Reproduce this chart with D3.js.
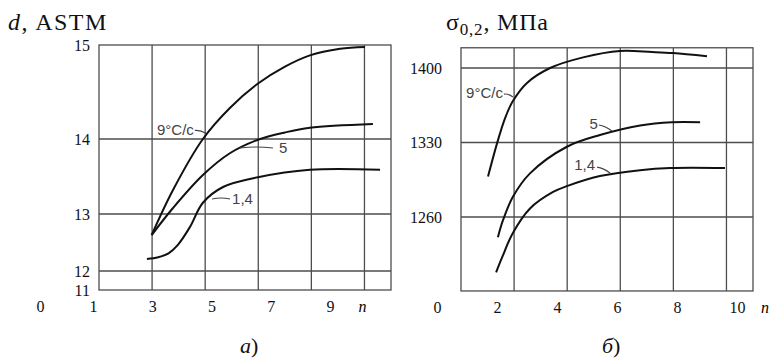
<!DOCTYPE html>
<html>
<head>
<meta charset="utf-8">
<script src="https://cdn.jsdelivr.net/npm/d3@7"></script>
<style>
  body { margin: 0; background: #fff; }
  svg { display: block; }
  .grid { stroke: #4d4d4d; stroke-width: 1.3; fill: none; }
  .curve { stroke: #111; stroke-width: 2; fill: none; }
  .lbl { font-family: "Liberation Sans", Arial, sans-serif; font-size: 15px; fill: #444; }
  .leader { stroke: #444; stroke-width: 1.2; fill: none; }
  .ttl { font-family: "Liberation Serif", "Times New Roman", serif; font-size: 24px; fill: #111; }
</style>
</head>
<body>
<div id="chart"></div>
<script>
// a) grain size d (ASTM) vs n, cooling rates 9, 5, 1.4 °C/s
var leftXTicks = [0, 1, 3, 5, 7, 9];
var leftYTicks = [11, 12, 13, 14, 15];
var leftGridY = [12, 13, 14];
var leftN9  = [2.98, 3.70, 4.71, 5.62, 6.57, 7.48, 8.32, 9.34, 10.18];
var leftD9  = [12.63, 13.32, 14.0, 14.33, 14.59, 14.77, 14.89, 14.96, 14.98];
var leftN5  = [2.98, 3.70, 4.71, 5.62, 6.57, 7.48, 8.32, 10.45];
var leftD5  = [12.63, 13.08, 13.52, 13.81, 13.99, 14.07, 14.12, 14.16];
var leftN14 = [2.82, 3.20, 3.55, 3.85, 4.27, 4.71, 5.39, 6.57, 8.32, 10.69];
var leftD14 = [12.21, 12.24, 12.31, 12.45, 12.77, 13.15, 13.36, 13.49, 13.59, 13.59];
var leftLabels = ["9°C/c", "5", "1,4"];
var leftLabelN = [4.81, 5.96, 5.02];
var leftLabelV = [14.06, 13.88, 13.2];

// б) yield strength σ0,2 (MPa) vs n
var rightXTicks = [0, 2, 4, 6, 8, 10];
var rightYTicks = [1260, 1330, 1400];
var rightN9  = [1.70, 2.03, 2.27, 2.53, 3.0, 3.77, 4.87, 6.10, 7.17, 7.87, 9.0];
var rightS9  = [1298, 1332, 1353, 1369, 1386, 1400, 1410, 1416, 1415, 1414, 1411];
var rightN5  = [2.03, 2.20, 2.53, 3.10, 4.33, 5.43, 6.77, 7.83, 8.77];
var rightS5  = [1241, 1257, 1279, 1301, 1326, 1337, 1346, 1349, 1349];
var rightN14 = [1.97, 2.17, 2.53, 3.10, 3.87, 4.33, 5.43, 6.77, 7.77, 9.6];
var rightS14 = [1208, 1222, 1245, 1268, 1283.5, 1289, 1298.5, 1304, 1306, 1306];
var rightLabels = ["9°C/c", "5", "1,4"];
var rightLabelN = [2.53, 5.83, 5.77];
var rightLabelV = [1372.7, 1340.8, 1301.3];

var gridCols = [1, 2, 3, 4, 5];

var svg = d3.select("#chart").append("svg")
    .attr("width", 774)
    .attr("height", 358);

function tickFont(a) {
    a.select(".domain").remove();
    a.attr("font-family", "'Liberation Serif', 'Times New Roman', serif")
        .attr("font-size", 16);
    a.selectAll("text").attr("fill", "#111");
}

function panel(o) {
    var g = svg.append("g");

    // frame + grid
    var x0 = o.gx(0), x1 = o.gx(5.5);
    var yTop = o.y(o.yMax), yBot = o.y(o.yMin);
    g.append("rect").attr("class", "grid")
        .attr("x", x0).attr("y", yTop)
        .attr("width", x1 - x0).attr("height", yBot - yTop);
    g.selectAll(".vg").data(gridCols).enter().append("line")
        .attr("class", "grid")
        .attr("x1", d => o.gx(d)).attr("x2", d => o.gx(d))
        .attr("y1", yTop).attr("y2", yBot);
    g.selectAll(".hg").data(o.gridY).enter().append("line")
        .attr("class", "grid")
        .attr("x1", x0).attr("x2", x1)
        .attr("y1", d => o.y(d)).attr("y2", d => o.y(d));

    // tick labels
    g.append("g")
        .attr("transform", "translate(0," + yBot + ")")
        .call(d3.axisBottom(o.x).tickValues(o.xTicks).tickSize(0).tickPadding(11).tickFormat(d3.format("d")))
        .call(tickFont);
    g.append("g")
        .attr("transform", "translate(" + (x0 - o.yPad) + ",0)")
        .call(d3.axisLeft(o.y).tickValues(o.yTicks).tickSize(0).tickPadding(0).tickFormat(d3.format("d")))
        .call(tickFont);
    g.append("text")
        .attr("x", o.x(o.nAt)).attr("y", yBot + 22)
        .attr("text-anchor", "middle")
        .style("font-family", "'Liberation Serif', serif")
        .style("font-style", "italic")
        .style("font-size", "16px")
        .text("n");

    // curves
    var line = d3.line()
        .x(d => o.x(d[0])).y(d => o.y(d[1]))
        .curve(d3.curveCatmullRom.alpha(0.5));
    o.series.forEach(function(s) {
        g.append("path").attr("class", "curve").attr("d", line(d3.zip(s[0], s[1])));
    });

    // rate labels with leader lines
    o.labels.forEach(function(t, i) {
        var ax = o.x(o.labelN[i]), ay = o.y(o.labelV[i]);
        var L = o.leaders[i];
        g.append("path").attr("class", "leader")
            .attr("d", "M" + (ax + L[0]) + "," + (ay + L[1]) +
                " Q" + (ax + L[0] * 0.5) + "," + (ay + L[1] * 0.5 - 2) + " " + ax + "," + ay);
        g.append("text").attr("class", "lbl")
            .attr("x", ax + L[2]).attr("y", ay + L[3])
            .attr("dy", "0.35em")
            .attr("text-anchor", L[2] < 0 ? "end" : "start")
            .text(t);
    });
}

panel({
    x: d3.scaleLinear().domain([0, 1, 9]).range([40, 93, 330]),
    y: d3.scaleLinear().domain([11, 12, 13, 14, 15]).range([290, 271, 214, 139, 45]),
    gx: d3.scaleLinear().domain([0, 5.5]).range([99, 391]),
    yMin: 11, yMax: 15, yPad: 9,
    xTicks: leftXTicks, yTicks: leftYTicks, gridY: leftGridY, nAt: 10.1,
    series: [[leftN9, leftD9], [leftN5, leftD5], [leftN14, leftD14]],
    labels: leftLabels, labelN: leftLabelN, labelV: leftLabelV,
    leaders: [[-11, -3, -12, -4], [33, 0, 39, 0], [18, 0, 20, 0]]
});

panel({
    x: d3.scaleLinear().domain([0, 10]).range([437, 737]),
    y: d3.scaleLinear().domain([1260, 1400]).range([217, 68]),
    gx: d3.scaleLinear().domain([0, 5.5]).range([461, 753]),
    yMin: 1190.5, yMax: 1419, yPad: 19,
    xTicks: rightXTicks, yTicks: rightYTicks, gridY: rightYTicks, nAt: 10.93,
    series: [[rightN9, rightS9], [rightN5, rightS5], [rightN14, rightS14]],
    labels: rightLabels, labelN: rightLabelN, labelV: rightLabelV,
    leaders: [[-9, -3, -10, -4], [-13, -6, -14, -7], [-13, -6, -15, -8]]
});

// axis titles
var t1 = svg.append("text").attr("class", "ttl").attr("x", 8).attr("y", 30).style("letter-spacing", "1.5px");
t1.append("tspan").style("font-style", "italic").text("d");
t1.append("tspan").text(", ASTM");

var t2 = svg.append("text").attr("class", "ttl").attr("x", 446).attr("y", 30).style("letter-spacing", "0.8px");
t2.append("tspan").text("σ");
t2.append("tspan").attr("dy", 5).style("font-size", "17px").text("0,2");
t2.append("tspan").attr("dy", -5).text(", МПа");

// panel captions
var c1 = svg.append("text").attr("class", "ttl").attr("x", 240).attr("y", 353).style("font-size", "22px");
c1.append("tspan").style("font-style", "italic").text("а");
c1.append("tspan").text(")");
var c2 = svg.append("text").attr("class", "ttl").attr("x", 602).attr("y", 353).style("font-size", "22px");
c2.append("tspan").style("font-style", "italic").text("б");
c2.append("tspan").text(")");
</script>
</body>
</html>
